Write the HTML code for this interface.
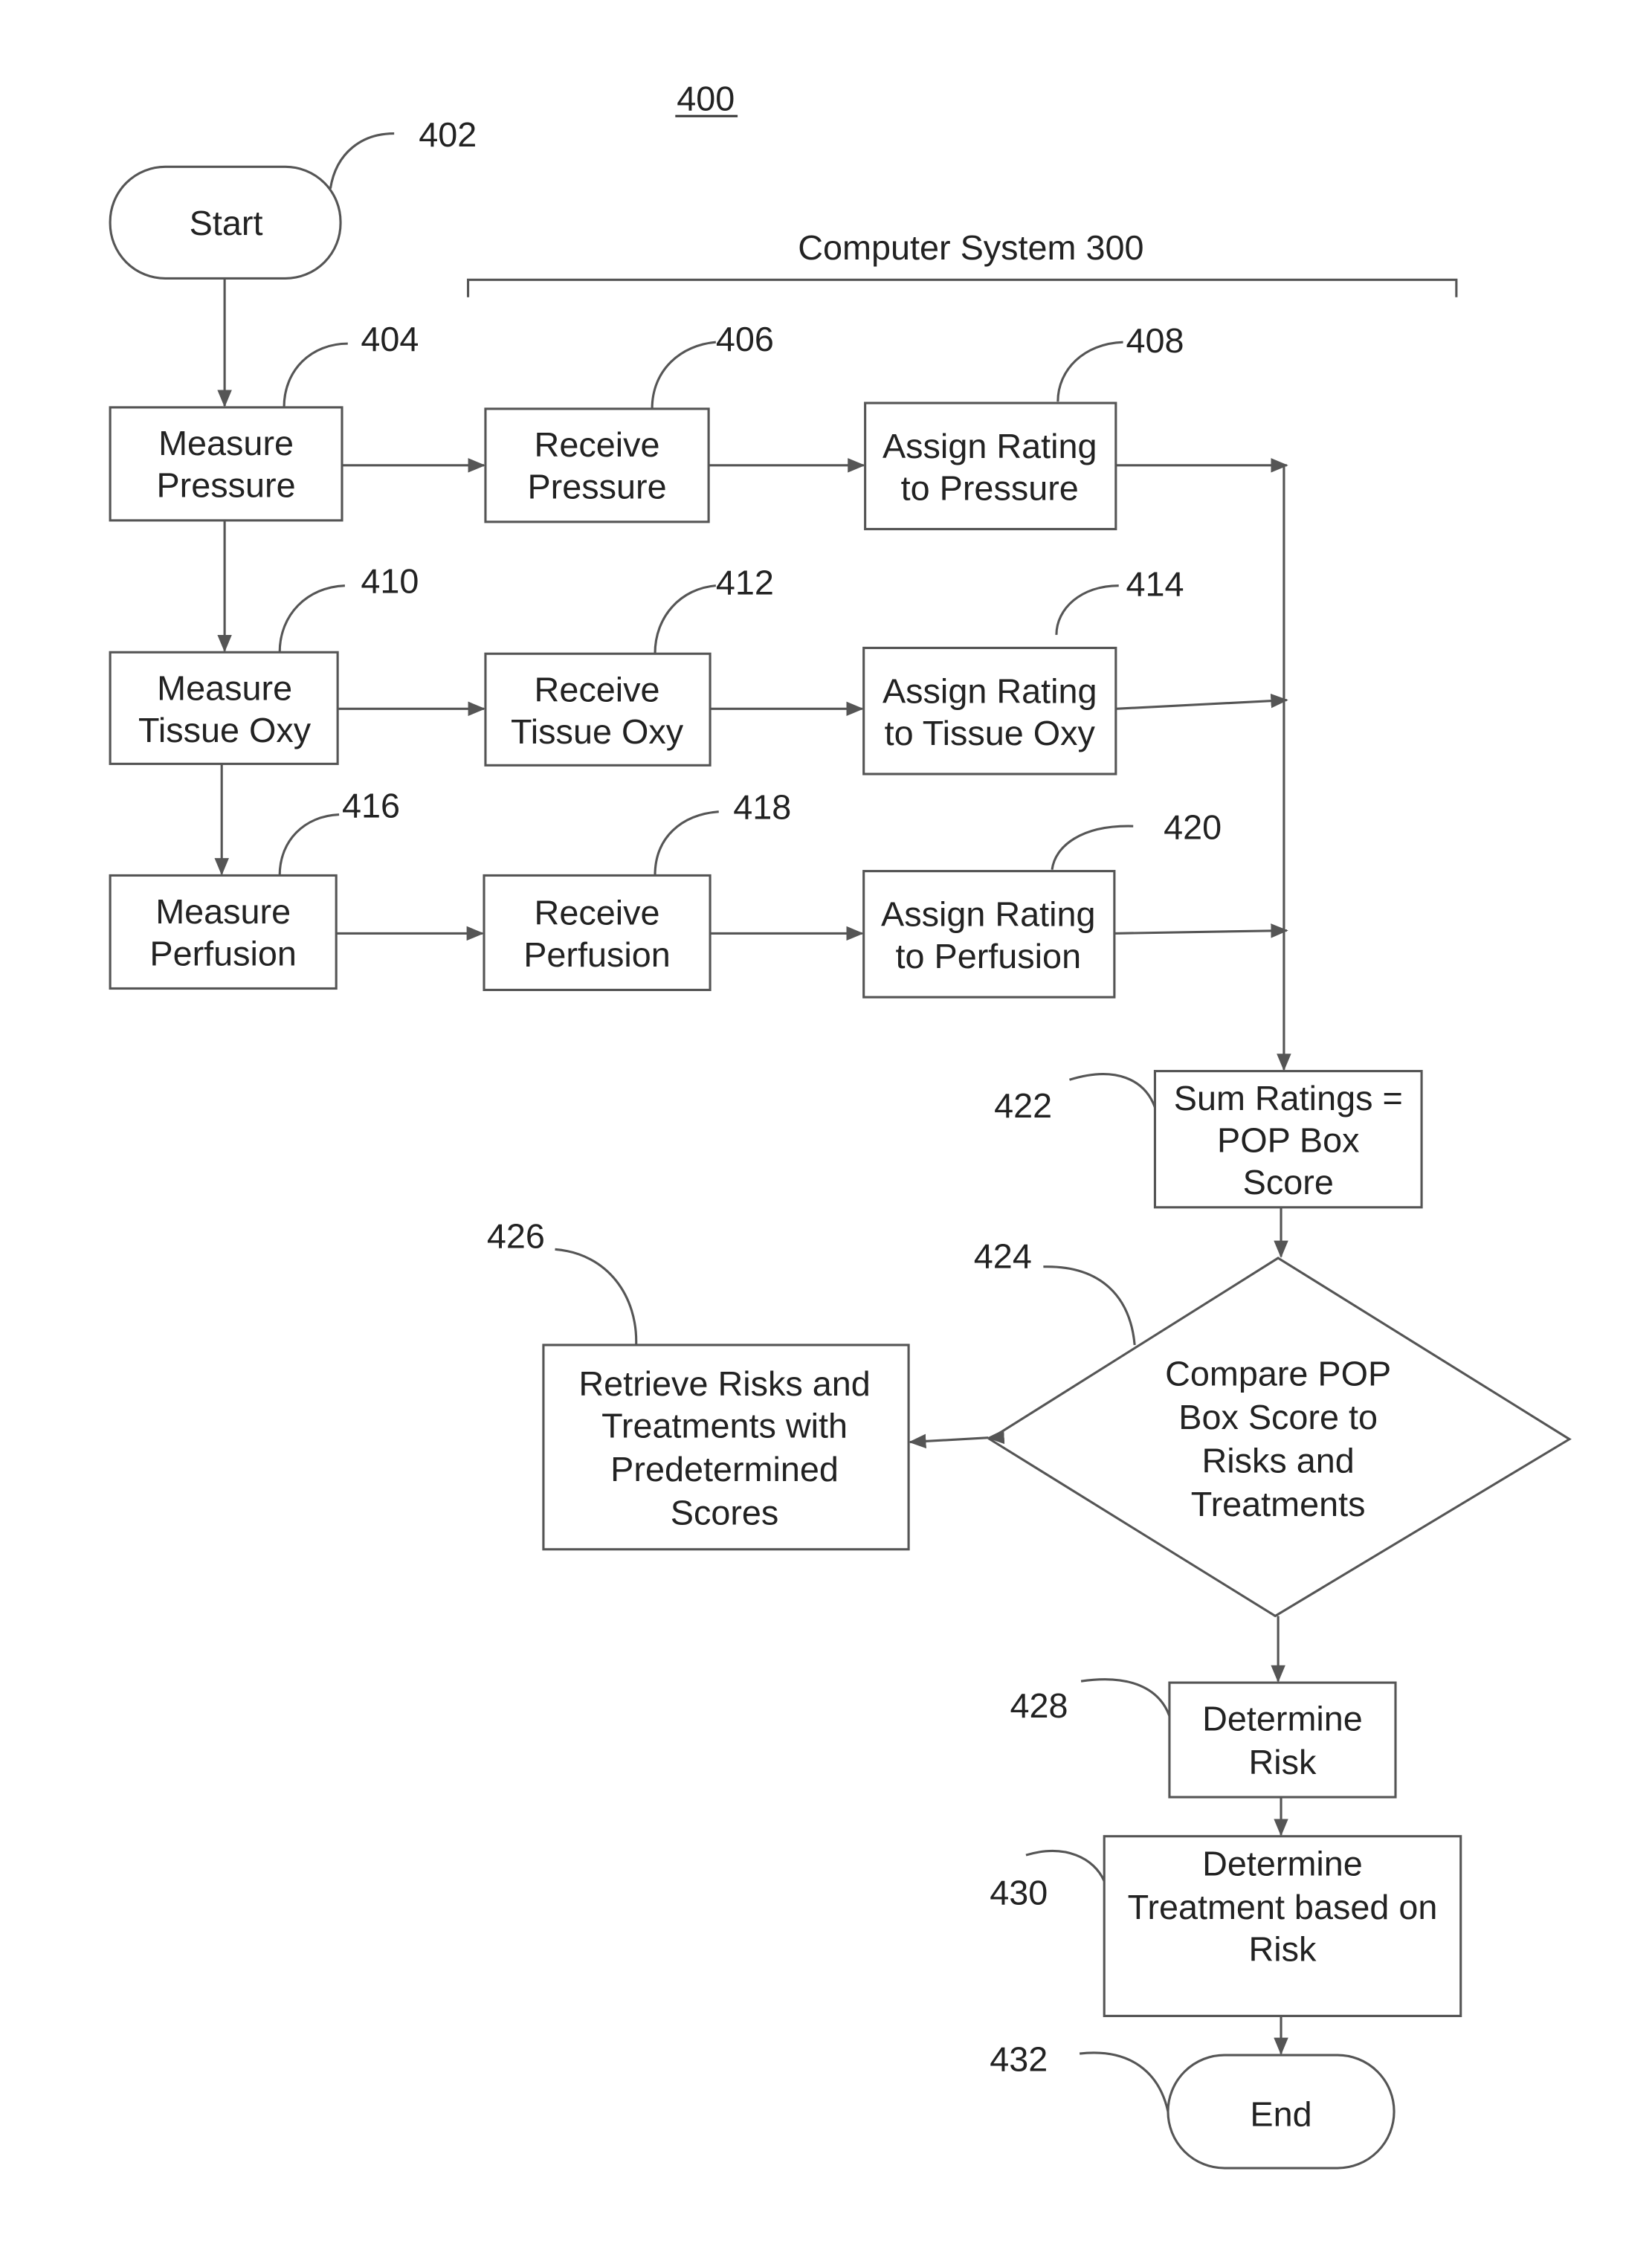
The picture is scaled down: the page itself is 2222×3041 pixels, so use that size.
<!DOCTYPE html>
<html><head><meta charset="utf-8"><style>
html,body{margin:0;padding:0;background:#fff;}
svg{display:block;}
text{font-family:"Liberation Sans",sans-serif;font-size:24px;fill:#222;}
.n{font-size:23px;}
</style></head><body>
<svg width="2222" height="3041" viewBox="0 0 1140 1560" xmlns="http://www.w3.org/2000/svg">
<defs>
<marker id="a" markerWidth="12" markerHeight="10" refX="11" refY="5" orient="auto" markerUnits="userSpaceOnUse">
<path d="M0,0 L12,5 L0,10 Z" fill="#555"/></marker>
<marker id="b" markerWidth="12" markerHeight="10" refX="1" refY="5" orient="auto" markerUnits="userSpaceOnUse">
<path d="M12,0 L0,5 L12,10 Z" fill="#555"/></marker>
</defs>
<g fill="none" stroke="#555" stroke-width="1.6">
<!-- boxes -->
<rect x="76" y="115" width="159" height="77" rx="38"/>
<rect x="76" y="281" width="160" height="78"/>
<rect x="335" y="282" width="154" height="78"/>
<rect x="597" y="278" width="173" height="87"/>
<rect x="76" y="450" width="157" height="77"/>
<rect x="335" y="451" width="155" height="77"/>
<rect x="596" y="447" width="174" height="87"/>
<rect x="76" y="604" width="156" height="78"/>
<rect x="334" y="604" width="156" height="79"/>
<rect x="596" y="601" width="173" height="87"/>
<rect x="797" y="739" width="184" height="94"/>
<path d="M882,868 L1083,993 L880,1115 L683,993 Z"/>
<rect x="375" y="928" width="252" height="141"/>
<rect x="807" y="1161" width="156" height="79"/>
<rect x="762" y="1267" width="246" height="124"/>
<rect x="806" y="1418" width="156" height="78" rx="39"/>
<!-- bracket -->
<path d="M323,205 L323,193 L1005,193 L1005,205"/>
<!-- arrows -->
<path d="M155,192 L155,280" marker-end="url(#a)"/>
<path d="M155,359 L155,449" marker-end="url(#a)"/>
<path d="M153,527 L153,603" marker-end="url(#a)"/>
<path d="M236,321 L334,321" marker-end="url(#a)"/>
<path d="M489,321 L596,321" marker-end="url(#a)"/>
<path d="M770,321 L888,321" marker-end="url(#a)"/>
<path d="M233,489 L334,489" marker-end="url(#a)"/>
<path d="M490,489 L595,489" marker-end="url(#a)"/>
<path d="M770,489 L888,483" marker-end="url(#a)"/>
<path d="M232,644 L333,644" marker-end="url(#a)"/>
<path d="M490,644 L595,644" marker-end="url(#a)"/>
<path d="M769,644 L888,642" marker-end="url(#a)"/>
<path d="M886,321 L886,738" marker-end="url(#a)"/>
<path d="M884,833 L884,867" marker-end="url(#a)"/>
<path d="M628,995 L682,992" marker-start="url(#b)" marker-end="url(#b)"/>
<path d="M882,1115 L882,1160" marker-end="url(#a)"/>
<path d="M884,1240 L884,1266" marker-end="url(#a)"/>
<path d="M884,1391 L884,1417" marker-end="url(#a)"/>
<!-- leader curves -->
<path d="M228,130 C232,105 250,92 272,92"/>
<path d="M196,281 C196,255 215,237 240,237"/>
<path d="M450,282 C450,255 470,238 494,236"/>
<path d="M730,277 C730,255 748,237 775,236"/>
<path d="M193,450 C193,424 212,405 238,404"/>
<path d="M452,451 C452,425 470,406 494,404"/>
<path d="M729,438 C729,420 746,404 772,404"/>
<path d="M193,604 C193,580 210,563 234,562"/>
<path d="M452,604 C452,578 470,562 496,560"/>
<path d="M726,600 C728,584 746,569 782,570"/>
<path d="M797,764 C790,745 770,735 738,745"/>
<path d="M783,928 C780,895 760,873 720,874"/>
<path d="M439,928 C440,895 420,865 383,862"/>
<path d="M807,1184 C800,1165 780,1155 746,1160"/>
<path d="M762,1298 C755,1282 735,1272 708,1280"/>
<path d="M806,1457 C800,1430 780,1413 745,1417"/>
</g>
<g text-anchor="middle">
<text x="487" y="76">400</text>
<line x1="466" y1="80" x2="509" y2="80" stroke="#333" stroke-width="1.5"/>
<text x="156" y="162">Start</text>
<text x="670" y="179">Computer System 300</text>
<text x="156" y="314">Measure</text><text x="156" y="343">Pressure</text>
<text x="412" y="315">Receive</text><text x="412" y="344">Pressure</text>
<text x="683" y="316">Assign Rating</text><text x="683" y="345">to Pressure</text>
<text x="155" y="483">Measure</text><text x="155" y="512">Tissue Oxy</text>
<text x="412" y="484">Receive</text><text x="412" y="513">Tissue Oxy</text>
<text x="683" y="485">Assign Rating</text><text x="683" y="514">to Tissue Oxy</text>
<text x="154" y="637">Measure</text><text x="154" y="666">Perfusion</text>
<text x="412" y="638">Receive</text><text x="412" y="667">Perfusion</text>
<text x="682" y="639">Assign Rating</text><text x="682" y="668">to Perfusion</text>
<text x="889" y="766">Sum Ratings =</text><text x="889" y="795">POP Box</text><text x="889" y="824">Score</text>
<text x="882" y="956">Compare POP</text><text x="882" y="986">Box Score to</text><text x="882" y="1016">Risks and</text><text x="882" y="1046">Treatments</text>
<text x="500" y="963">Retrieve Risks and</text><text x="500" y="992">Treatments with</text><text x="500" y="1022">Predetermined</text><text x="500" y="1052">Scores</text>
<text x="885" y="1194">Determine</text><text x="885" y="1224">Risk</text>
<text x="885" y="1294">Determine</text><text x="885" y="1324">Treatment based on</text><text x="885" y="1353">Risk</text>
<text x="884" y="1467">End</text>
</g>
<g class="n">
<text x="289" y="101">402</text>
<text x="249" y="242">404</text>
<text x="494" y="242">406</text>
<text x="777" y="243">408</text>
<text x="249" y="409">410</text>
<text x="494" y="410">412</text>
<text x="777" y="411">414</text>
<text x="236" y="564">416</text>
<text x="506" y="565">418</text>
<text x="803" y="579">420</text>
<text x="686" y="771">422</text>
<text x="672" y="875">424</text>
<text x="336" y="861">426</text>
<text x="697" y="1185">428</text>
<text x="683" y="1314">430</text>
<text x="683" y="1429">432</text>
</g>
</svg>
</body></html>
